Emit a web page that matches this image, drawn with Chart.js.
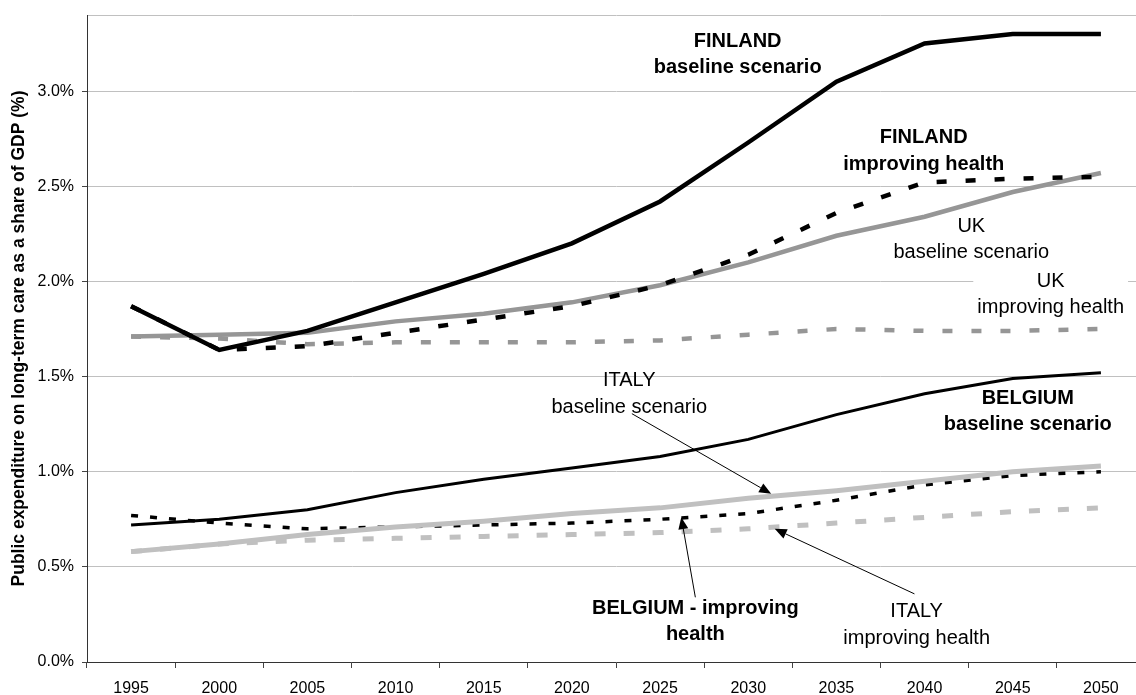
<!DOCTYPE html>
<html lang="en">
<head>
<meta charset="UTF-8">
<title>Public expenditure on long-term care</title>
<script src="https://cdn.jsdelivr.net/npm/chart.js"></script>
<style>
    html, body { margin: 0; padding: 0; background: #fff; overflow: hidden; }
    #wrap { width: 1150px; height: 695px; position: relative; }
</style>
</head>
<body>
<div id="wrap"><canvas id="ltcChart"></canvas></div>
<script>
// categories
const years = ['1995', '2000', '2005', '2010', '2015', '2020', '2025', '2030', '2035', '2040', '2045', '2050'];

// series values, % of GDP
const finlandBaseline  = [1.87, 1.64, 1.74, 1.89, 2.04, 2.20, 2.42, 2.73, 3.05, 3.25, 3.30, 3.30];
const finlandImproving = [1.87, 1.64, 1.66, 1.73, 1.80, 1.87, 1.98, 2.14, 2.36, 2.52, 2.54, 2.55];
const ukBaseline       = [1.71, 1.72, 1.73, 1.79, 1.83, 1.89, 1.98, 2.10, 2.24, 2.34, 2.47, 2.57];
const ukImproving      = [1.71, 1.70, 1.67, 1.68, 1.68, 1.68, 1.69, 1.72, 1.75, 1.74, 1.74, 1.75];
const italyBaseline    = [0.58, 0.62, 0.67, 0.71, 0.74, 0.78, 0.81, 0.86, 0.90, 0.95, 1.00, 1.03];
const italyImproving   = [0.58, 0.62, 0.64, 0.65, 0.66, 0.67, 0.68, 0.70, 0.73, 0.76, 0.79, 0.81];
const belgiumBaseline  = [0.72, 0.75, 0.80, 0.89, 0.96, 1.02, 1.08, 1.17, 1.30, 1.41, 1.49, 1.52];
const belgiumImproving = [0.77, 0.73, 0.70, 0.71, 0.72, 0.73, 0.75, 0.78, 0.85, 0.93, 0.98, 1.00];

// y axis tick labels
const yTicks = [0, 0.5, 1, 1.5, 2, 2.5, 3];
const yMax = 3.4;

// callout labels, placed in axis units (category index, value of first baseline)
const notes = [
    { lines: ['FINLAND', 'baseline scenario'], bold: true, at: [6.88, 3.232] },
    { lines: ['FINLAND', 'improving health'], bold: true, at: [8.99, 2.726] },
    { lines: ['UK', 'baseline scenario'], bold: false, at: [9.53, 2.261] },
    { lines: ['UK', 'improving health'], bold: false, at: [10.43, 1.972], box: true },
    { lines: ['ITALY', 'baseline scenario'], bold: false, at: [5.65, 1.449] },
    { lines: ['BELGIUM', 'baseline scenario'], bold: true, at: [10.17, 1.358] },
    { lines: ['BELGIUM - improving', 'health'], bold: true, at: [6.40, 0.253] },
    { lines: ['ITALY', 'improving health'], bold: false, at: [8.91, 0.235] }
];

const arrows = [
    { from: [5.68, 1.305], to: [7.26, 0.884] },
    { from: [6.40, 0.340], to: [6.24, 0.761] },
    { from: [8.885, 0.358], to: [7.30, 0.700] }
];

const FONT = '"Liberation Sans", Arial, sans-serif';
const NOTE_SIZE = 20;
const NOTE_LINE = 26.5;

function noteFont(bold) {
    return (bold ? 'bold ' : '') + NOTE_SIZE + 'px ' + FONT;
}

const notesPlugin = {
    id: 'notes',
    beforeDatasetsDraw(chart) {
        const { ctx, scales: { x, y } } = chart;
        ctx.save();
        notes.filter(n => n.box).forEach(n => {
            ctx.font = noteFont(n.bold);
            const w = Math.max(...n.lines.map(l => ctx.measureText(l).width)) + 8;
            const cx = x.getPixelForValue(n.at[0]);
            const by = y.getPixelForValue(n.at[1]);
            ctx.fillStyle = '#fff';
            ctx.fillRect(cx - w / 2, by - NOTE_SIZE, w, NOTE_LINE * (n.lines.length - 1) + NOTE_SIZE + 8);
        });
        ctx.restore();
    },
    afterDatasetsDraw(chart) {
        const { ctx, scales: { x, y } } = chart;
        ctx.save();
        ctx.fillStyle = '#000';
        ctx.textAlign = 'center';
        ctx.textBaseline = 'alphabetic';
        notes.forEach(n => {
            ctx.font = noteFont(n.bold);
            const cx = x.getPixelForValue(n.at[0]);
            const by = y.getPixelForValue(n.at[1]);
            n.lines.forEach((l, i) => ctx.fillText(l, cx, by + i * NOTE_LINE));
        });

        ctx.strokeStyle = '#000';
        ctx.lineWidth = 1;
        arrows.forEach(a => {
            const x1 = x.getPixelForValue(a.from[0]), y1 = y.getPixelForValue(a.from[1]);
            const x2 = x.getPixelForValue(a.to[0]), y2 = y.getPixelForValue(a.to[1]);
            const ang = Math.atan2(y2 - y1, x2 - x1);
            const len = 12, half = 5;
            const bx = x2 - len * Math.cos(ang), byy = y2 - len * Math.sin(ang);
            ctx.beginPath();
            ctx.moveTo(x1, y1);
            ctx.lineTo(bx, byy);
            ctx.stroke();
            ctx.beginPath();
            ctx.moveTo(x2, y2);
            ctx.lineTo(bx + half * Math.sin(ang), byy - half * Math.cos(ang));
            ctx.lineTo(bx - half * Math.sin(ang), byy + half * Math.cos(ang));
            ctx.closePath();
            ctx.fill();
        });
        ctx.restore();
    }
};

function line(data, color, width, dash) {
    return {
        data: data,
        borderColor: color,
        borderWidth: width,
        borderDash: dash || [],
        pointRadius: 0,
        pointHoverRadius: 0,
        tension: 0,
        fill: false
    };
}

const ctx = document.getElementById('ltcChart').getContext('2d');
new Chart(ctx, {
    type: 'line',
    data: {
        labels: years,
        // first dataset is drawn on top
        datasets: [
            line(finlandBaseline, '#000', 4.5),
            line(finlandImproving, '#000', 4.5, [10, 19]),
            line(ukBaseline, '#969696', 4.5),
            line(ukImproving, '#969696', 4.5, [10, 19]),
            line(italyBaseline, '#c0c0c0', 5),
            line(belgiumBaseline, '#000', 3),
            line(belgiumImproving, '#000', 3.5, [7, 12]),
            line(italyImproving, '#c0c0c0', 5, [11, 18])
        ]
    },
    options: {
        responsive: true,
        maintainAspectRatio: false,
        animation: false,
        events: [],
        layout: { padding: { top: 15, right: 5, left: 0, bottom: 0 } },
        plugins: {
            legend: { display: false },
            tooltip: { enabled: false }
        },
        scales: {
            x: {
                type: 'category',
                offset: true,
                afterFit(scale) { scale.height = 33; },
                grid: {
                    offset: true,
                    drawOnChartArea: false,
                    drawTicks: true,
                    tickLength: 6,
                    tickColor: '#444'
                },
                border: { color: '#333', width: 1 },
                ticks: {
                    color: '#000',
                    font: { family: FONT, size: 16 },
                    padding: 11,
                    maxRotation: 0,
                    autoSkip: false
                }
            },
            y: {
                min: 0,
                max: yMax,
                afterFit(scale) {
                    scale.width = 87;
                    scale.paddingTop = 0;
                    scale.paddingBottom = 0;
                },
                afterBuildTicks(scale) {
                    scale.ticks = yTicks.concat([yMax]).map(v => ({ value: v }));
                },
                grid: {
                    color: '#c0c0c0',
                    lineWidth: 1,
                    drawTicks: true,
                    tickLength: 5,
                    tickColor: c => (c.tick && c.tick.value === yMax) ? 'rgba(0,0,0,0)' : '#444'
                },
                border: { color: '#333', width: 1 },
                ticks: {
                    color: '#000',
                    font: { family: FONT, size: 16 },
                    padding: 8,
                    callback: v => yTicks.includes(v) ? v.toFixed(1) + '%' : ''
                },
                title: {
                    display: true,
                    text: 'Public expenditure on long-term care as a share of GDP (%)',
                    color: '#000',
                    font: { family: FONT, size: 17.5, weight: 'bold' },
                    padding: { top: 8.5, bottom: 0 }
                }
            }
        }
    },
    plugins: [notesPlugin]
});
</script>
</body>
</html>
